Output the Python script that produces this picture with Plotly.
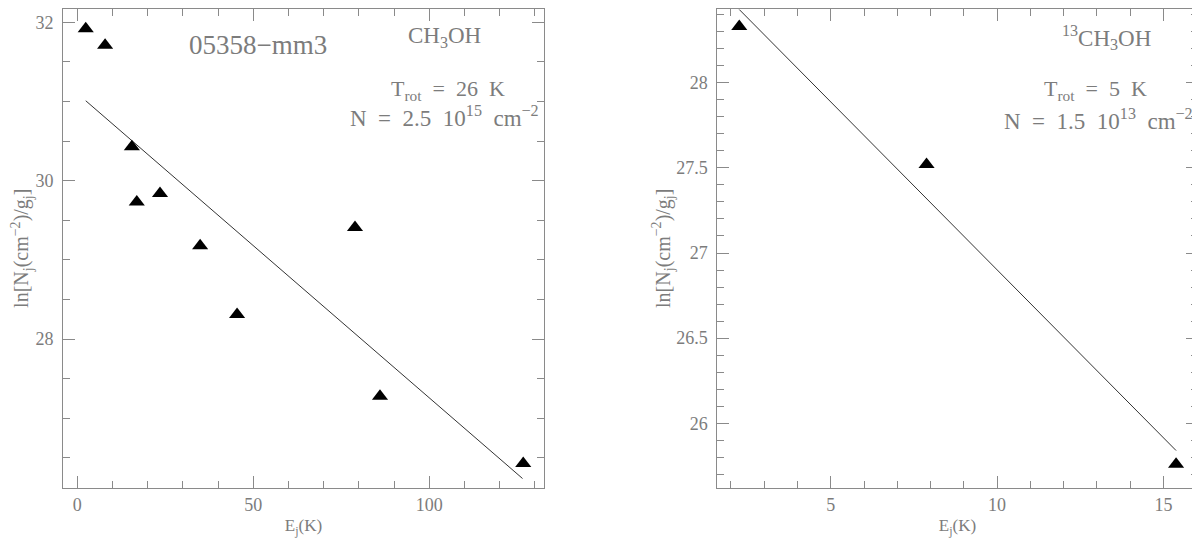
import plotly.graph_objects as go

# Left panel: CH3OH
left_E = [2.4, 7.9, 15.5, 16.9, 23.5, 34.9, 45.4, 78.9, 86.0, 126.7]
left_lnN = [31.92, 31.71, 30.43, 29.73, 29.84, 29.18, 28.31, 29.41, 27.28, 26.43]
left_fit_E = [2.4, 126.5]
left_fit_lnN = [31.01, 26.24]

# Right panel: 13CH3OH
right_E = [2.25, 7.88, 15.38]
right_lnN = [28.33, 27.52, 25.76]
right_fit_E = [2.25, 15.38]
right_fit_lnN = [28.43, 25.84]

GRAY = "#8a8a8a"
TXT = "#7c7c7c"
FONT = "Liberation Serif"

# page has an 8px body margin; figure is placed at (8, 8)
OFF = 8
W, H = 1200 - OFF, 539 - OFF

def px(x):
    return (x - OFF) / W

def py(y):
    return min(1.0, 1 - (y - OFF) / H)

fig = go.Figure()
fig.add_trace(go.Scatter(x=left_fit_E, y=left_fit_lnN, mode="lines",
                         line=dict(color="#333333", width=1), xaxis="x", yaxis="y", showlegend=False))
fig.add_trace(go.Scatter(x=left_E, y=left_lnN, mode="markers",
                         marker=dict(symbol="triangle-up", size=14, color="black"),
                         xaxis="x", yaxis="y", showlegend=False))
fig.add_trace(go.Scatter(x=right_fit_E, y=right_fit_lnN, mode="lines",
                         line=dict(color="#333333", width=1), xaxis="x2", yaxis="y2", showlegend=False))
fig.add_trace(go.Scatter(x=right_E, y=right_lnN, mode="markers",
                         marker=dict(symbol="triangle-up", size=14, color="black"),
                         xaxis="x2", yaxis="y2", showlegend=False))

def ax(rng, dtick, mdtick, domain, anchor, title, standoff, tsize, lstand):
    return dict(range=rng, domain=domain, anchor=anchor, dtick=dtick, tick0=0,
                ticks="inside", ticklen=12, tickcolor=GRAY, tickwidth=1,
                showline=True, linecolor=GRAY, linewidth=1, mirror="ticks",
                showgrid=False, zeroline=False, automargin=False, ticklabelstandoff=lstand,
                tickfont=dict(family=FONT, size=18, color=TXT),
                title=dict(text=title, font=dict(family=FONT, size=tsize, color=TXT), standoff=standoff),
                minor=dict(dtick=mdtick, tick0=0, ticks="inside", ticklen=7, tickcolor=GRAY, showgrid=False))

ydom = [py(488), py(8.5)]
ylab = "ln[N<sub>j</sub>(cm<sup>−2</sup>)/g<sub>j</sub>]"
xlab = "E<sub>j</sub>(K)"
fig.update_layout(
    width=W, height=H,
    margin=dict(l=0, r=0, t=0, b=0),
    paper_bgcolor="white", plot_bgcolor="white",
    xaxis=ax([-4.06, 132.6], 50, 10, [px(63), px(544)], "y", xlab, 5, 17, 0),
    yaxis=ax([26.12, 32.175], 2, 0.5, ydom, "x", ylab, 26, 20, 5),
    xaxis2=ax([1.59, 16.03], 5, 1, [px(717.3), px(1197.7)], "y2", xlab, 5, 17, 0),
    yaxis2=ax([25.62, 28.436], 0.5, 0.1, ydom, "x2", ylab, 0, 20, 5),
)

S = "\u00a0\u00a0"

def ann(text, x, y, size):
    return dict(text=text, x=px(x), y=py(y), xref="paper", yref="paper",
                xanchor="center", yanchor="middle", showarrow=False,
                font=dict(family=FONT, size=size, color=TXT))

fig.update_layout(annotations=[
    ann("05358−mm3", 258, 45, 27),
    ann("CH<sub>3</sub>OH", 444, 37, 23),
    ann(f"T<sub>rot</sub>{S}={S}26{S}K", 448, 90, 22),
    ann(f"N{S}={S}2.5{S}10<sup>15</sup>{S}cm<sup>−2</sup>", 444, 116, 23),
    ann("<sup>13</sup>CH<sub>3</sub>OH", 1106, 37, 23),
    ann(f"T<sub>rot</sub>{S}={S}5{S}K", 1095, 90, 22),
    ann(f"N{S}={S}1.5{S}10<sup>13</sup>{S}cm<sup>−2</sup>", 1098, 120, 23),
])

fig.write_html("out.html")
